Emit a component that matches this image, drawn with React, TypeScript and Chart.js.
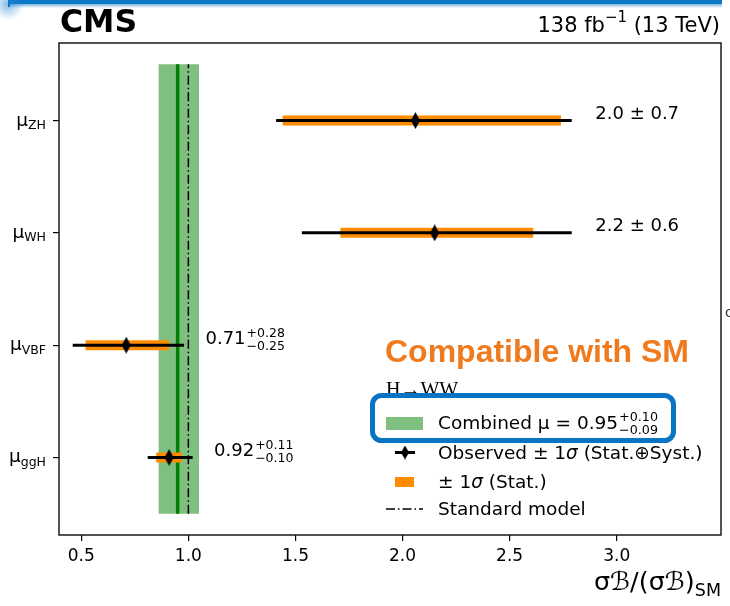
import React, { useEffect, useRef } from 'react';
import { Chart, registerables } from 'chart.js';

Chart.register(...registerables);

// ---------------- data ----------------
const processes = ['ggH', 'VBF', 'WH', 'ZH'];
const rowPos = [0, 1, 2, 3];
const observed = [0.91, 0.71, 2.15, 2.06];
const totalLow = [0.81, 0.46, 1.53, 1.41];
const totalHigh = [1.02, 0.98, 2.79, 2.79];
const statLow = [0.85, 0.52, 1.71, 1.44];
const statHigh = [0.97, 0.91, 2.61, 2.74];
const resultMain = ['0.92', '0.71', '2.2 ± 0.6', '2.0 ± 0.7'];
const resultUp = ['+0.11', '+0.28', '', ''];
const resultDown = ['−0.10', '−0.25', '', ''];
const labelAnchorX = [1.12, 1.08, 2.9, 2.9];

const combinedMu = 0.95;
const combinedLow = 0.86;
const combinedHigh = 1.05;
const smValue = 1.0;
const bandBottom = -0.5;
const bandTop = 3.5;

const xTicks = [0.5, 1.0, 1.5, 2.0, 2.5, 3.0];
const xMin = 0.396;
const xMax = 3.487;
const yMin = -0.69;
const yMax = 3.69;

// ---------------- style ----------------
const FONT = '"DejaVu Sans", sans-serif';
const GREEN_BAND = 'rgba(0,128,0,0.5)';
const GREEN_LINE = '#008000';
const ORANGE = '#ff8c00';
const BLUE = '#0a74c4';
const SM_DASH = [9, 3, 1.5, 3];

function makeDiamond(w: number, h: number) {
  const c = document.createElement('canvas');
  c.width = w;
  c.height = h;
  const g = c.getContext('2d')!;
  g.fillStyle = '#000';
  g.beginPath();
  g.moveTo(w / 2, 0);
  g.lineTo(w, h / 2);
  g.lineTo(w / 2, h);
  g.lineTo(0, h / 2);
  g.closePath();
  g.fill();
  return c;
}

function put(ctx: CanvasRenderingContext2D, s: string, x: number, y: number, size: number, opts: any = {}) {
  ctx.font = `${opts.style || ''} ${opts.weight || ''} ${size}px ${opts.family || FONT}`;
  ctx.fillStyle = opts.color || '#000';
  ctx.textAlign = opts.align || 'left';
  ctx.textBaseline = 'alphabetic';
  ctx.fillText(s, x, y);
  return ctx.measureText(s).width;
}

function measure(ctx: CanvasRenderingContext2D, s: string, size: number, opts: any = {}) {
  ctx.font = `${opts.style || ''} ${opts.weight || ''} ${size}px ${opts.family || FONT}`;
  return ctx.measureText(s).width;
}

function supSub(ctx: CanvasRenderingContext2D, x: number, base: number, sup: string, sub: string, size: number) {
  const w1 = put(ctx, sup, x, base - 7.5, size);
  const w2 = put(ctx, sub, x, base + 5.5, size);
  return Math.max(w1, w2);
}

let legendDiamond: HTMLCanvasElement;

const decorPlugin = {
  id: 'decor',
  beforeDraw(chart: any) {
    const ctx = chart.ctx;
    ctx.save();
    ctx.fillStyle = '#fff';
    ctx.fillRect(0, 0, chart.width, chart.height);
    ctx.restore();
  },
  afterDraw(chart: any) {
    const ctx: CanvasRenderingContext2D = chart.ctx;
    const { left, right, top, bottom } = chart.chartArea;
    const xs = chart.scales.x;
    const ys = chart.scales.y;
    ctx.save();

    // frame
    ctx.strokeStyle = '#1a1a1a';
    ctx.lineWidth = 1.5;
    ctx.setLineDash([]);
    ctx.strokeRect(left, top, right - left, bottom - top);

    // y tick labels  mu_{process}
    processes.forEach((p, i) => {
      const py = ys.getPixelForValue(rowPos[i]);
      const sw = measure(ctx, p, 12.5);
      const mw = measure(ctx, 'μ', 18.5);
      const r = left - 13;
      put(ctx, 'μ', r - sw - mw, py + 5, 18.5);
      put(ctx, p, r - sw, py + 8.5, 12.5);
    });

    // result annotations
    processes.forEach((_, i) => {
      const px = xs.getPixelForValue(labelAnchorX[i]);
      const py = ys.getPixelForValue(rowPos[i]) - 1.5;
      const w = put(ctx, resultMain[i], px, py, 18);
      if (resultUp[i]) supSub(ctx, px + w + 1, py + 0.5, resultUp[i], resultDown[i], 12.5);
    });

    // headline texts
    put(ctx, 'CMS', 60, 32, 31.5, { weight: 'bold' });
    {
      const a = '138 fb';
      const s = '−1';
      const b = ' (13 TeV)';
      const wa = measure(ctx, a, 21);
      const ws = measure(ctx, s, 15);
      const wb = measure(ctx, b, 21);
      let x = 720 - wa - ws - wb;
      put(ctx, a, x, 32, 21);
      x += wa;
      put(ctx, s, x, 22, 15);
      x += ws;
      put(ctx, b, x, 32, 21);
    }

    // x axis title
    {
      const a = 'σℬ/(σℬ)';
      const s = 'SM';
      const wa = measure(ctx, a, 25.5);
      const ws = measure(ctx, s, 17.5);
      const x = 721 - wa - ws;
      put(ctx, a, x, 590, 25.5);
      put(ctx, s, x + wa, 596, 17.5);
    }

    // Compatible with SM
    put(ctx, 'Compatible with SM', 385, 362, 32, { weight: 'bold', family: '"Liberation Sans", Arial, sans-serif', color: '#f07a1e' });

    // H->WW (serif)
    put(ctx, 'H→WW', 386, 396, 20, { family: '"Liberation Serif", "DejaVu Serif", serif' });

    // legend
    const tx = 438;
    ctx.fillStyle = GREEN_BAND;
    ctx.fillRect(386, 417, 37, 13);
    {
      const w = put(ctx, 'Combined μ = 0.95', tx, 428.5, 18.5);
      supSub(ctx, tx + w + 1, 428, '+0.10', '−0.09', 12.7);
    }
    ctx.strokeStyle = '#000';
    ctx.lineWidth = 3;
    ctx.beginPath();
    ctx.moveTo(395, 452.5);
    ctx.lineTo(415, 452.5);
    ctx.stroke();
    ctx.drawImage(legendDiamond, 405 - legendDiamond.width / 2, 452.5 - legendDiamond.height / 2);
    {
      let x = tx;
      x += put(ctx, 'Observed ± 1', x, 458.5, 18.5);
      x += put(ctx, 'σ', x, 458.5, 18.5, { style: 'italic' });
      put(ctx, ' (Stat.⊕Syst.)', x, 458.5, 18.5);
    }
    ctx.fillStyle = ORANGE;
    ctx.fillRect(395, 477, 19, 10);
    {
      let x = tx;
      x += put(ctx, '± 1', x, 487.5, 18.5);
      x += put(ctx, 'σ', x, 487.5, 18.5, { style: 'italic' });
      put(ctx, ' (Stat.)', x, 487.5, 18.5);
    }
    ctx.strokeStyle = '#000';
    ctx.lineWidth = 1.5;
    ctx.setLineDash(SM_DASH);
    ctx.beginPath();
    ctx.moveTo(386, 509);
    ctx.lineTo(423, 509);
    ctx.stroke();
    ctx.setLineDash([]);
    put(ctx, 'Standard model', tx, 515, 18.5);

    // blue highlight box
    ctx.strokeStyle = BLUE;
    ctx.lineWidth = 5;
    ctx.beginPath();
    (ctx as any).roundRect(372.5, 395.5, 301, 45, 9);
    ctx.stroke();

    // slide frame fragment at top
    ctx.fillStyle = '#0b78c8';
    ctx.fillRect(8, 0, 714, 4);
    const g = ctx.createLinearGradient(0, 4, 0, 8);
    g.addColorStop(0, 'rgba(11,120,200,0.55)');
    g.addColorStop(1, 'rgba(11,120,200,0)');
    ctx.fillStyle = g;
    ctx.fillRect(8, 4, 714, 4);
    const rg = ctx.createRadialGradient(8, 4, 0, 8, 4, 16);
    rg.addColorStop(0, 'rgba(40,130,210,0.55)');
    rg.addColorStop(1, 'rgba(40,130,210,0)');
    ctx.fillStyle = rg;
    ctx.fillRect(0, 0, 24, 22);
    ctx.fillStyle = '#0b78c8';
    ctx.fillRect(8, 0, 2, 7);

    // stray character at the right edge
    put(ctx, 'c', 725, 317, 14, { color: '#333' });

    ctx.restore();
  },
};

export default function App() {
  const ref = useRef<HTMLCanvasElement>(null);

  useEffect(() => {
    document.body.style.margin = '0';
    const diamond = makeDiamond(9, 17);
    legendDiamond = makeDiamond(8, 14);

    const pointsAt = (xs: number[], ys: number[]) => xs.map((x, i) => ({ x, y: ys[i] }));

    const datasets: any[] = [];
    datasets.push({
      data: pointsAt(observed, rowPos),
      showLine: false,
      pointStyle: diamond,
      pointRadius: 8,
      order: 0,
    });
    processes.forEach((_, i) => {
      datasets.push({
        data: pointsAt([totalLow[i], totalHigh[i]], [rowPos[i], rowPos[i]]),
        borderColor: '#000',
        borderWidth: 3,
        borderCapStyle: 'butt',
        pointRadius: 0,
        order: 1,
      });
    });
    processes.forEach((_, i) => {
      datasets.push({
        data: pointsAt([statLow[i], statHigh[i]], [rowPos[i], rowPos[i]]),
        borderColor: ORANGE,
        borderWidth: 10,
        borderCapStyle: 'butt',
        pointRadius: 0,
        order: 2,
      });
    });
    datasets.push({
      data: pointsAt([smValue, smValue], [bandBottom, bandTop]),
      borderColor: '#000',
      borderWidth: 1.5,
      borderDash: SM_DASH,
      borderCapStyle: 'butt',
      pointRadius: 0,
      order: 3,
    });
    datasets.push({
      data: pointsAt([combinedMu, combinedMu], [bandBottom, bandTop]),
      borderColor: GREEN_LINE,
      borderWidth: 3.5,
      borderCapStyle: 'butt',
      pointRadius: 0,
      order: 4,
    });
    datasets.push({
      data: pointsAt([combinedLow, combinedHigh], [bandTop, bandTop]),
      borderColor: 'rgba(0,0,0,0)',
      borderWidth: 1,
      backgroundColor: GREEN_BAND,
      fill: { value: bandBottom },
      pointRadius: 0,
      order: 5,
    });

    const chart = new Chart(ref.current!, {
      type: 'line',
      data: { datasets },
      options: {
        responsive: false,
        devicePixelRatio: 1,
        animation: false,
        events: [],
        layout: { padding: { left: 0, right: 8, top: 43, bottom: 0 } },
        elements: { line: { tension: 0 } },
        plugins: { legend: { display: false }, tooltip: { enabled: false } },
        scales: {
          x: {
            type: 'linear',
            min: xMin,
            max: xMax,
            afterBuildTicks: (s: any) => {
              s.ticks = xTicks.map((v) => ({ value: v }));
            },
            afterFit: (s: any) => {
              s.height = 71;
            },
            grid: { drawOnChartArea: false, drawTicks: true, tickLength: 6, color: '#000', lineWidth: 1.2 },
            border: { display: false },
            ticks: {
              color: '#000',
              font: { family: 'DejaVu Sans', size: 17 },
              padding: 5,
              maxRotation: 0,
              autoSkip: false,
              callback: (v: any) => Number(v).toFixed(1),
            },
          },
          y: {
            type: 'linear',
            min: yMin,
            max: yMax,
            afterBuildTicks: (s: any) => {
              s.ticks = rowPos.map((v) => ({ value: v }));
            },
            afterFit: (s: any) => {
              s.width = 59;
            },
            grid: { drawOnChartArea: false, drawTicks: true, tickLength: 6, color: '#000', lineWidth: 1.2 },
            border: { display: false },
            ticks: { autoSkip: false, callback: () => '' },
          },
        },
      },
      plugins: [decorPlugin],
    } as any);

    return () => chart.destroy();
  }, []);

  return (
    <div style={{ position: 'fixed', left: 0, top: 0, width: 730, height: 606, background: '#fff' }}>
      <canvas ref={ref} width={730} height={606} style={{ display: 'block', width: 730, height: 606 }} />
    </div>
  );
}
